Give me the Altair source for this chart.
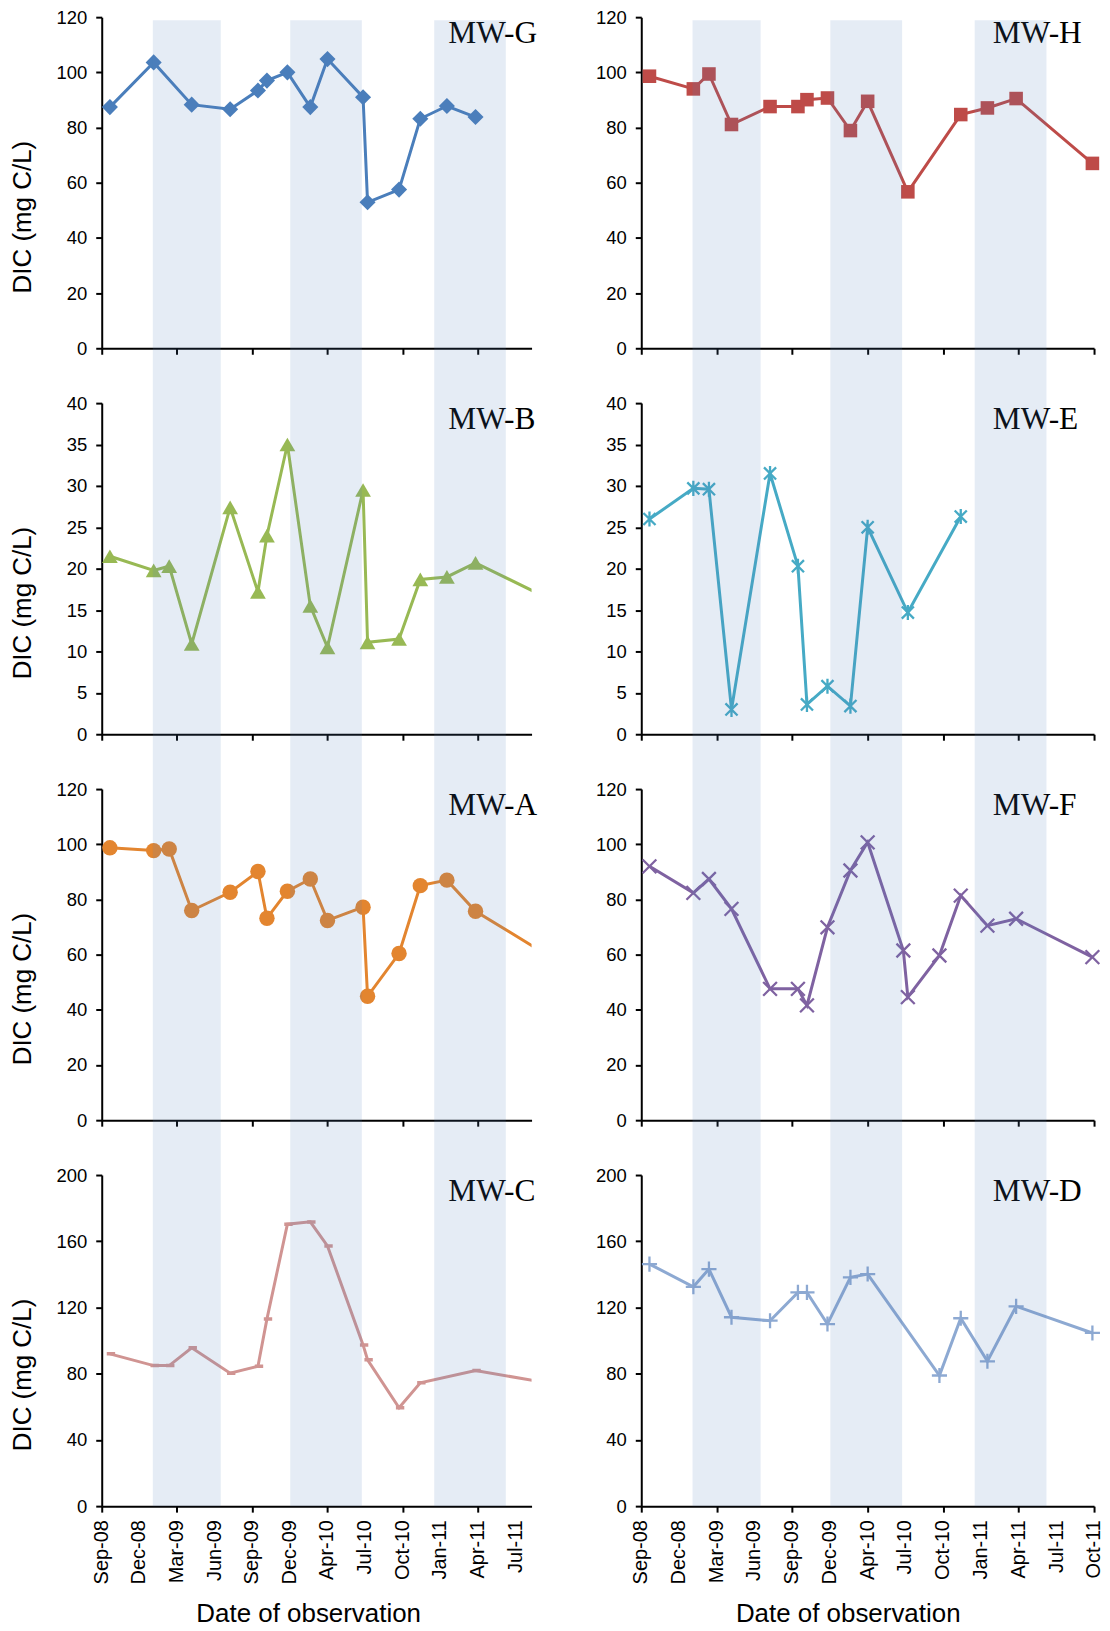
import altair as alt
import pandas as pd

# Sampling campaigns (one entry per field visit)
SAMPLE_DATES = [
    "2008-10-16", "2009-01-31", "2009-03-10", "2009-05-04", "2009-08-06",
    "2009-10-13", "2009-11-04", "2009-12-24", "2010-02-18", "2010-04-01",
    "2010-06-27", "2010-07-08", "2010-09-23", "2010-11-14", "2011-01-18",
    "2011-03-29", "2011-10-01",
]

# DIC concentrations (mg C/L) per monitoring well, None = not sampled
MW_G = [87.4, 103.6, None, 88.3, 86.6, 93.4, 97.0, 100.0, 87.4, 104.8,
        91.0, 52.9, 57.5, 83.2, 87.8, 83.8, None]
MW_H = [98.6, 94.0, 99.4, 81.1, 87.6, 87.6, 90.1, 90.7, 78.9, 89.5,
        None, 56.7, None, 84.7, 87.1, 90.5, 67.0]
MW_B = [21.5, 19.8, 20.3, 10.9, 27.4, 17.2, 24.0, 35.0, 15.5, 10.5,
        29.5, 11.1, 11.5, 18.7, 19.0, 20.7, 16.2]
MW_E = [26.0, 29.7, 29.6, 3.0, 31.5, 20.3, 3.6, 5.8, 3.4, 25.0,
        None, 14.7, None, 26.3, None, None, None]
MW_A = [98.7, 97.7, 98.3, 76.0, 82.6, 90.1, 73.2, 83.0, 87.4, 72.4,
        77.2, 44.9, 60.4, 85.0, 87.0, 75.7, 58.9]
MW_F = [92.0, 82.4, 87.4, 76.6, 47.6, 47.6, 41.6, 69.9, 90.5, 100.7,
        61.5, 44.6, 59.7, 81.4, 70.5, 73.0, 59.1]
MW_C = [92.0, 84.9, 84.9, 95.6, 80.3, 84.5, 113.1, 170.3, 171.7, 157.2,
        97.4, 88.4, 59.4, 74.5, None, 81.9, 74.0]
MW_D = [146.2, 132.5, 143.2, 114.1, 112.0, 129.1, 129.1, 110.0, 138.2, 140.2,
        None, None, 78.9, 113.5, 87.5, 120.7, 104.6]

# Wet-season periods shaded on every panel
WET_START = ["2009-01-29", "2009-12-31", "2010-12-18"]
WET_END = ["2009-07-14", "2010-06-24", "2011-06-11"]

# Major tick positions of the date axis and their labels
TICK_DATES = [
    "2008-09-26", "2008-12-27", "2009-03-29", "2009-06-29", "2009-09-29",
    "2009-12-30", "2010-04-01", "2010-07-02", "2010-10-02", "2011-01-02",
    "2011-04-04", "2011-07-06", "2011-10-05",
]
TICK_LABELS = [
    "Sep-08", "Dec-08", "Mar-09", "Jun-09", "Sep-09", "Dec-09", "Apr-10",
    "Jul-10", "Oct-10", "Jan-11", "Apr-11", "Jul-11", "Oct-11",
]
AXIS_START = "2008-09-26"
LEFT_END = "2011-08-13"
RIGHT_END = "2011-10-05"

PANEL_H = 332
GAP = 55
LEFT_W = 431
RIGHT_W = 454

STAR = "M -0.8 -0.8 L 0.8 0.8 M -0.8 0.8 L 0.8 -0.8 M 0 -1 L 0 1"
CROSS_X = "M -1 -1 L 1 1 M -1 1 L 1 -1"
PLUS = "M -1 0 L 1 0 M 0 -1 L 0 1"
DASH = "M -0.6 0 L 1 0"


def ms(d):
    return int(pd.Timestamp(d, tz="UTC").value // 10**6)


def panel(name, values, color, shape, filled, size, y_max, y_step, col, row,
          stroke_w=2.3):
    left = col == 0
    bottom = row == 3
    width = LEFT_W if left else RIGHT_W
    end = LEFT_END if left else RIGHT_END
    n_ticks = 12 if left else 13

    df = pd.DataFrame({"date": SAMPLE_DATES, "dic": values}).dropna()

    x_axis = alt.Axis(
        values=[ms(d) for d in TICK_DATES[:n_ticks]],
        labels=False,
        title="Date of observation" if bottom else None,
        titleX=207,
        titleY=116,
        titleBaseline="alphabetic",
        titleAlign="center",
    )
    y_axis = alt.Axis(
        values=list(range(0, y_max + 1, y_step)),
        labelPadding=9,
        labelOverlap=False,
        title="DIC (mg C/L)" if left else None,
        titleAngle=270,
        titleX=-92,
        titleY=200,
        titleAlign="center",
        titleBaseline="top",
    )
    x = alt.X("date:T", axis=x_axis,
              scale=alt.Scale(type="utc", domain=[ms(AXIS_START), ms(end)]))
    y = alt.Y("dic:Q", axis=y_axis,
              scale=alt.Scale(domain=[0, y_max], nice=False))

    base = alt.Chart(df)
    line = base.mark_line(color=color, strokeWidth=3, clip=left).encode(x=x, y=y)
    if filled:
        pts = base.mark_point(shape=shape, filled=True, size=size, opacity=1,
                              color=color, clip=left)
    else:
        pts = base.mark_point(shape=shape, filled=False, size=size, opacity=1,
                              color=color, strokeWidth=stroke_w, clip=left)
    pts = pts.encode(x=x, y=y)

    label = alt.Chart(pd.DataFrame({"well": [name]})).mark_text(
        align="left", baseline="alphabetic", font="Liberation Serif",
        fontSize=31.5, color="black",
    ).encode(x=alt.value(347.5 if left else 352.5), y=alt.value(25.8),
             text="well:N")

    bands = alt.Chart(pd.DataFrame({"start": WET_START, "end": WET_END})).mark_rect(
        color="#4F81BD", opacity=0.15,
    ).encode(
        x=alt.X("start:T"), x2="end:T",
        y=alt.value(3 if row == 0 else 0),
        y2=alt.value(PANEL_H if bottom else PANEL_H + GAP),
    )

    layers = [line, pts, label, bands]
    if bottom:
        tick_df = pd.DataFrame({"date": TICK_DATES[:n_ticks],
                                "lab": TICK_LABELS[:n_ticks]})
        tick_text = alt.Chart(tick_df).mark_text(
            angle=270, align="right", baseline="middle",
            font="Liberation Sans", fontSize=20, color="black",
        ).encode(x=alt.X("date:T"), y=alt.value(PANEL_H + 14), text="lab:N")
        layers.append(tick_text)

    return alt.layer(*layers).properties(width=width, height=PANEL_H)


panels = [
    panel("MW-G", MW_G, "#4A7EBB", "diamond", True, 260, 120, 20, 0, 0),
    panel("MW-H", MW_H, "#BE4B48", "square", True, 185, 120, 20, 1, 0),
    panel("MW-B", MW_B, "#98B954", "triangle-up", True, 250, 40, 5, 0, 1),
    panel("MW-E", MW_E, "#46AAC5", STAR, False, 230, 40, 5, 1, 1),
    panel("MW-A", MW_A, "#E3852F", "circle", True, 240, 120, 20, 0, 2),
    panel("MW-F", MW_F, "#7F62A1", CROSS_X, False, 190, 120, 20, 1, 2),
    panel("MW-C", MW_C, "#D09492", DASH, False, 110, 200, 40, 0, 3, 3.5),
    panel("MW-D", MW_D, "#8DA9D2", PLUS, False, 230, 200, 40, 1, 3),
]

chart = alt.concat(
    *panels, columns=2,
    spacing=alt.RowColnumber(row=GAP, column=110),
    bounds="flush", align="each",
).properties(
    padding={"left": 10, "top": 6, "right": 5, "bottom": 5},
).configure_view(stroke=None).configure_axis(
    grid=False,
    domainColor="black", domainWidth=2,
    tickColor="black", tickWidth=2, tickSize=6,
    labelFont="Liberation Sans", labelFontSize=18.5, labelColor="black",
    titleFont="Liberation Sans", titleFontSize=26, titleFontWeight="normal",
    titleColor="black",
)

chart.save("out.html", embed_options={"renderer": "svg", "actions": False})
